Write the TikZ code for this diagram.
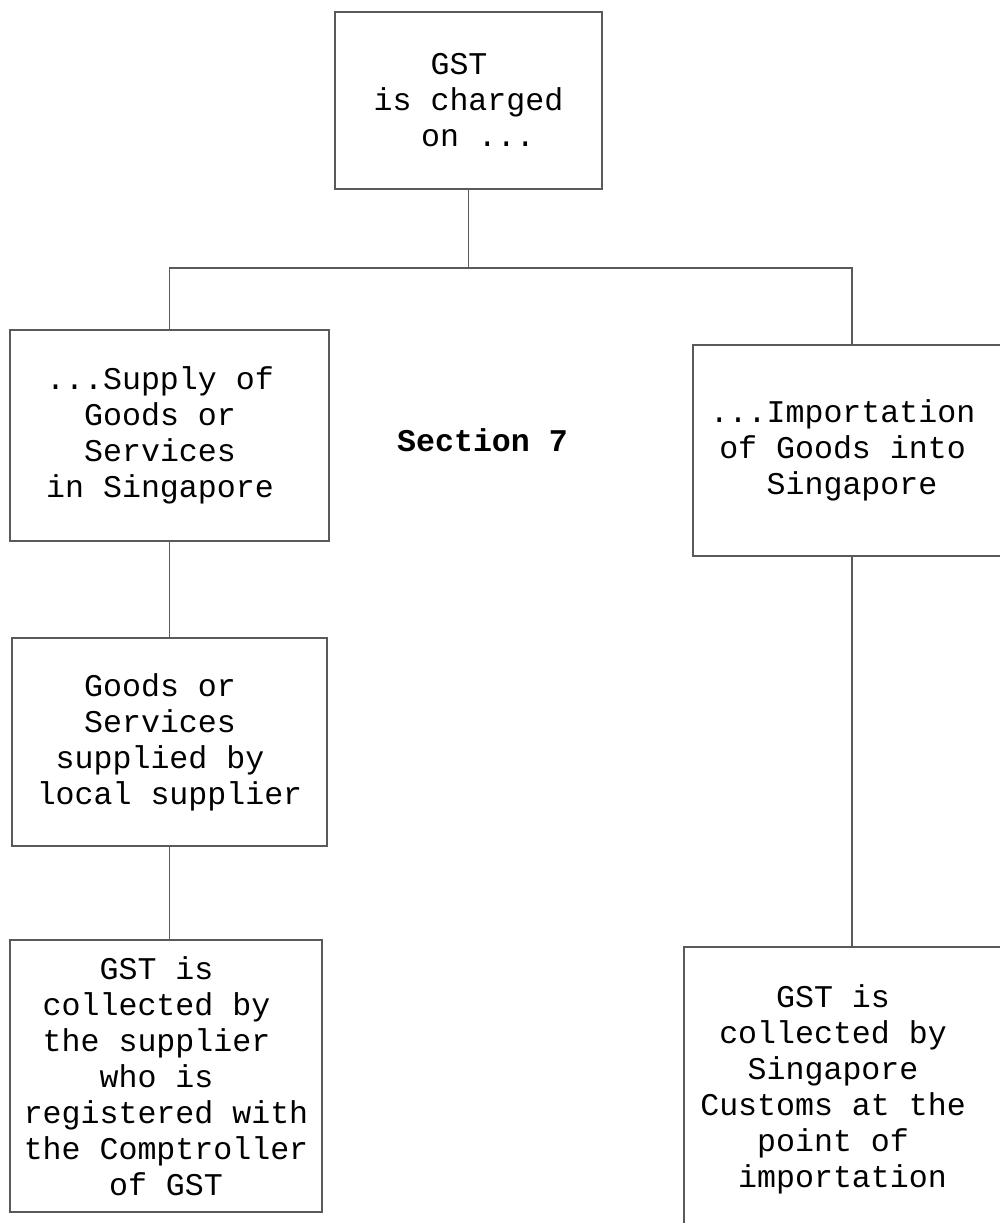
\documentclass[tikz,border=0pt]{standalone}
\usepackage{fontspec}
\usepackage{tikz}
\usepackage{xcolor}
\setmonofont{Liberation Mono}
\definecolor{framegray}{HTML}{5A5A5A}
\newcommand{\boxfont}{\ttfamily\fontsize{15.8}{18}\selectfont}
\newcommand{\padx}{\hphantom{x}}

\begin{document}
\begin{tikzpicture}[x=0.5pt,y=-0.5pt,
    gstbox/.style={draw=framegray, line width=0.6pt, inner sep=0pt,
      align=center, font=\boxfont},
    link/.style={draw=framegray, line width=0.6pt}]
    \useasboundingbox (0,0) rectangle (1000,1223);

    % Top box
    \node[gstbox, minimum width=133.5pt, minimum height=88.5pt] (top) at (468.5,100.5)
      {GST\padx\\is charged\\\padx on ...};

    % Supply branch
    \node[gstbox, minimum width=159.5pt, minimum height=105.5pt] (supply) at (169.5,435.5)
      {...Supply of\padx\\Goods or\padx\\Services\padx\\in Singapore\padx};

    % Importation branch
    \node[gstbox, minimum width=159pt, minimum height=105.5pt] (import) at (852,450.5)
      {...Importation\padx\\of Goods into\padx\\Singapore};

    % Section label
    \node[font=\boxfont\bfseries] (sec) at (482.5,440) {Section 7};

    % Local supplier
    \node[gstbox, minimum width=157.5pt, minimum height=104pt] (local) at (169.5,742)
      {Goods or\padx\\Services\padx\\supplied by\padx\\local supplier};

    % Collected by supplier
    \node[gstbox, minimum width=156pt, minimum height=136pt] (collectL) at (166,1076)
      {GST is\padx\\collected by\padx\\the supplier\padx\\who is\padx\\registered with\\the Comptroller\\of GST};

    % Collected by Customs (runs off the bottom edge)
    \node[gstbox, minimum width=168pt, minimum height=142pt] (collectR) at (852,1089)
      {GST is\padx\padx\\collected by\padx\padx\\Singapore\padx\padx\\Customs at the\padx\padx\\point of\padx\padx\\\padx importation\padx\padx};

    % Connectors
    \coordinate (bar) at (468.5,268);
    \draw[link] (top.south) -- (bar);
    \draw[link] (supply.north) |- (bar) -| (import.north);
    \draw[link] (supply.south) -- (local.north);
    \draw[link] (local.south) -- (local.south |- collectL.north);
    \draw[link] (import.south) -- (collectR.north);
\end{tikzpicture}
\end{document}
